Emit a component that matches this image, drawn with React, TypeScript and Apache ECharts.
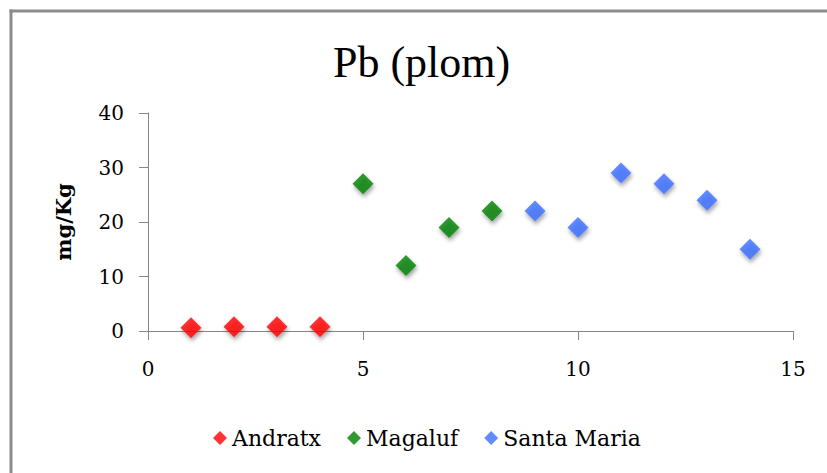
import React, { useEffect, useRef } from "react";
import * as echarts from "echarts";

const titleText = "Pb (plom)";
const yAxisName = "mg/Kg";
const seriesNames = ["Andratx", "Magaluf", "Santa Maria"];
const seriesColors = ["#ff0000", "#008000", "#3c6eff"];
const andratxX = [1, 2, 3, 4];
const andratxY = [0.6, 0.8, 0.8, 0.8];
const magalufX = [5, 6, 7, 8];
const magalufY = [27, 12, 19, 22];
const santaMariaX = [9, 10, 11, 12, 13, 14];
const santaMariaY = [22, 19, 29, 27, 24, 15];

const toPairs = (xs: number[], ys: number[]) => xs.map((x, i) => [x, ys[i]]);

export default function App() {
  const ref = useRef<HTMLDivElement>(null);
  useEffect(() => {
    if (!ref.current) return;
    document.body.style.margin = "0";
    document.body.style.overflow = "hidden";
    const chart = echarts.init(ref.current, undefined, { renderer: "svg" });
    const seriesData = [
      toPairs(andratxX, andratxY),
      toPairs(magalufX, magalufY),
      toPairs(santaMariaX, santaMariaY),
    ];
    const axisColor = "#868686";
    const borderColor = "#8c8c8c";
    const tickFont = { fontFamily: "DejaVu Serif", fontSize: 20, color: "#000" };
    chart.setOption({
      animation: false,
      backgroundColor: "#fff",
      graphic: [
        {
          type: "line",
          shape: { x1: 9.5, y1: 11, x2: 827, y2: 11 },
          style: { stroke: borderColor, lineWidth: 3 },
          silent: true,
        },
        {
          type: "line",
          shape: { x1: 11, y1: 9.5, x2: 11, y2: 473 },
          style: { stroke: borderColor, lineWidth: 3 },
          silent: true,
        },
      ],
      title: {
        text: titleText,
        left: 328,
        top: 35,
        textStyle: {
          fontFamily: "Liberation Serif",
          fontSize: 44,
          fontWeight: "normal",
          color: "#000",
        },
      },
      legend: {
        bottom: 19,
        left: 208,
        icon: "diamond",
        itemWidth: 14,
        itemHeight: 14,
        itemGap: 26,
        textStyle: { fontFamily: "DejaVu Serif", fontSize: 22, color: "#000" },
        data: seriesNames,
      },
      grid: { left: 148, right: 34, top: 113, bottom: 142, containLabel: false },
      xAxis: {
        type: "value",
        min: 0,
        max: 15,
        interval: 5,
        splitLine: { show: false },
        axisLine: { show: true, onZero: false, lineStyle: { color: axisColor, width: 1 } },
        axisTick: { show: true, inside: false, length: 9, lineStyle: { color: axisColor } },
        axisLabel: { ...tickFont, margin: 28 },
      },
      yAxis: {
        type: "value",
        min: 0,
        max: 40,
        interval: 10,
        name: yAxisName,
        nameLocation: "middle",
        nameGap: 74,
        nameRotate: 90,
        nameTextStyle: {
          fontFamily: "DejaVu Serif",
          fontWeight: "bold",
          fontSize: 21,
          color: "#000",
        },
        splitLine: { show: false },
        axisLine: { show: true, lineStyle: { color: axisColor, width: 1 } },
        axisTick: { show: true, inside: false, length: 9, lineStyle: { color: axisColor } },
        axisLabel: { ...tickFont, margin: 24 },
      },
      series: seriesNames.map((name, i) => ({
        name,
        type: "scatter",
        symbol: "diamond",
        symbolSize: 21,
        data: seriesData[i],
        itemStyle: {
          color: seriesColors[i],
          shadowBlur: 4,
          shadowOffsetX: 1,
          shadowOffsetY: 3,
          shadowColor: "rgba(0,0,0,0.45)",
        },
      })),
    });
    return () => chart.dispose();
  }, []);
  return <div ref={ref} style={{ width: 827, height: 473 }} />;
}
